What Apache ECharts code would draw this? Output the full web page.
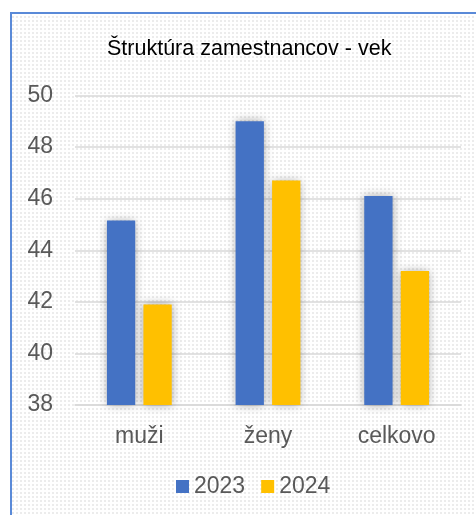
<!DOCTYPE html>
<html>
<head>
<meta charset="utf-8">
<script src="https://cdn.jsdelivr.net/npm/echarts@6/dist/echarts.min.js"></script>
<style>
  html, body { margin: 0; padding: 0; background: #fff; }
  #chart { width: 476px; height: 515px; }
</style>
</head>
<body>
<div id="chart"></div>
<script>
// data
const categories = ['muži', 'ženy', 'celkovo'];
const years = ['2023', '2024'];
const values2023 = [45.15, 49.0, 46.1];
const values2024 = [41.9, 46.7, 43.2];
const colors = ['#4472C4', '#FFC000'];

// small dotted background, like the excel fill
const tile = document.createElement('canvas');
tile.width = 4;
tile.height = 4;
const tctx = tile.getContext('2d');
tctx.fillStyle = '#ffffff';
tctx.fillRect(0, 0, 4, 4);
tctx.fillStyle = '#ececec';
tctx.fillRect(0, 0, 2, 2);

const chart = echarts.init(document.getElementById('chart'));

const font = 'Liberation Sans, Arial, sans-serif';
const barShadow = { shadowBlur: 9, shadowColor: 'rgba(0,0,0,0.35)' };

const option = {
  backgroundColor: '#fff',
  animation: false,
  graphic: [{
    type: 'rect',
    z: -10,
    silent: true,
    shape: { x: 11, y: 13, width: 470, height: 510 },
    style: {
      fill: { image: tile, repeat: 'repeat' },
      stroke: '#5a8ad8',
      lineWidth: 2
    }
  }],
  title: {
    text: 'Štruktúra zamestnancov - vek',
    left: 102,
    top: 33,
    textStyle: { fontFamily: font, fontSize: 21.5, fontWeight: 'normal', color: '#000' }
  },
  legend: {
    data: years,
    left: 171,
    top: 470,
    itemWidth: 13,
    itemHeight: 13,
    itemGap: 16,
    icon: 'rect',
    textStyle: { fontFamily: font, fontSize: 23, color: '#595959', padding: [0, 0, 0, 0] }
  },
  grid: { left: 75, right: 15, top: 95.5, bottom: 110 },
  xAxis: {
    type: 'category',
    data: categories,
    axisLine: { show: true, lineStyle: { color: '#d9d9d9', width: 1.5 } },
    axisTick: { show: false },
    axisLabel: { fontFamily: font, fontSize: 23, color: '#595959', margin: 20 }
  },
  yAxis: {
    type: 'value',
    min: 38,
    max: 50,
    interval: 2,
    axisLine: { show: false },
    axisTick: { show: false },
    axisLabel: { fontFamily: font, fontSize: 23, color: '#595959', margin: 22 },
    splitLine: { lineStyle: { color: '#d9d9d9', width: 1.5 } }
  },
  series: [
    {
      name: years[0],
      type: 'bar',
      data: values2023,
      barWidth: '22%',
      barGap: '29%',
      itemStyle: Object.assign({ color: colors[0] }, barShadow)
    },
    {
      name: years[1],
      type: 'bar',
      data: values2024,
      barWidth: '22%',
      itemStyle: Object.assign({ color: colors[1] }, barShadow)
    }
  ]
};

chart.setOption(option);
</script>
</body>
</html>
